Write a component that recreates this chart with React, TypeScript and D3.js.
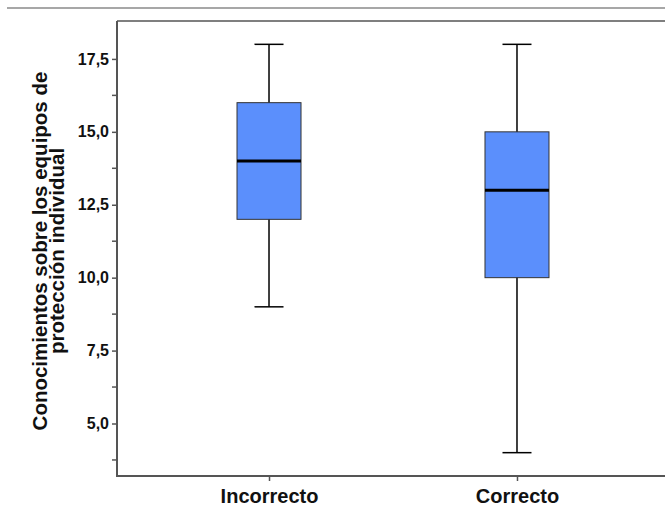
import React, { useEffect, useRef } from "react";
import * as d3 from "d3";

// box plot data
const categories = ["Incorrecto", "Correcto"];
const minValues = [9, 4];
const q1Values = [12, 10];
const medianValues = [14, 13];
const q3Values = [16, 15];
const maxValues = [18, 18];
const yTicks = [5, 7.5, 10, 12.5, 15, 17.5];
const yMinorTicks = [3.75, 6.25, 8.75, 11.25, 13.75, 16.25, 18.75];
const titleLines = ["Conocimientos sobre los equipos de", "protección individual"];

const App = () => {
  const ref = useRef<SVGSVGElement>(null);

  useEffect(() => {
    const width = 665;
    const height = 506;
    const margin = { top: 21, right: -4, bottom: 30, left: 117 };
    const font = "Arial, 'Liberation Sans', sans-serif";

    const svg = d3.select(ref.current);
    svg.selectAll("*").remove();

    const data = categories.map((c, i) => ({
      cat: c,
      min: minValues[i],
      q1: q1Values[i],
      med: medianValues[i],
      q3: q3Values[i],
      max: maxValues[i]
    }));

    const x = d3
      .scalePoint()
      .domain(categories)
      .range([margin.left, width - margin.right])
      .padding(0.613);
    const y = d3
      .scaleLinear()
      .domain([3.2, 18.8])
      .range([height - margin.bottom, margin.top]);

    const boxW = 64;
    const capW = 29;

    // top separator line
    svg
      .append("line")
      .attr("x1", 7)
      .attr("x2", width)
      .attr("y1", 8)
      .attr("y2", 8)
      .attr("stroke", "#8a8a8a")
      .attr("stroke-width", 1.5);

    // plot frame top
    svg
      .append("line")
      .attr("x1", margin.left)
      .attr("x2", width)
      .attr("y1", margin.top)
      .attr("y2", margin.top)
      .attr("stroke", "#555")
      .attr("stroke-width", 1.5);

    // === BOXES ===
    const g = svg.append("g");
    const boxes = g.selectAll("g.box").data(data).join("g").attr("class", "box");

    boxes
      .append("line")
      .attr("x1", d => x(d.cat)!)
      .attr("x2", d => x(d.cat)!)
      .attr("y1", d => y(d.max))
      .attr("y2", d => y(d.min))
      .attr("stroke", "#000")
      .attr("stroke-width", 1.5);

    boxes
      .selectAll("line.cap")
      .data(d => [d.min, d.max].map(v => ({ cat: d.cat, v })))
      .join("line")
      .attr("class", "cap")
      .attr("x1", d => x(d.cat)! - capW / 2)
      .attr("x2", d => x(d.cat)! + capW / 2)
      .attr("y1", d => y(d.v))
      .attr("y2", d => y(d.v))
      .attr("stroke", "#000")
      .attr("stroke-width", 1.5);

    boxes
      .append("rect")
      .attr("x", d => x(d.cat)! - boxW / 2)
      .attr("width", boxW)
      .attr("y", d => y(d.q3))
      .attr("height", d => y(d.q1) - y(d.q3))
      .attr("fill", "#5b8ffc")
      .attr("stroke", "#333")
      .attr("stroke-width", 1);

    boxes
      .append("line")
      .attr("x1", d => x(d.cat)! - boxW / 2)
      .attr("x2", d => x(d.cat)! + boxW / 2)
      .attr("y1", d => y(d.med))
      .attr("y2", d => y(d.med))
      .attr("stroke", "#000")
      .attr("stroke-width", 3);

    // === Y AXIS ===
    svg
      .append("g")
      .attr("transform", `translate(${margin.left},0)`)
      .call(
        d3
          .axisLeft(y)
          .tickValues(yTicks)
          .tickSize(5)
          .tickPadding(3)
          .tickFormat(d => d3.format(".1f")(d as number).replace(".", ","))
      )
      .call(g => g.select(".domain").remove())
      .call(g => g.selectAll("line").attr("stroke", "#555").attr("stroke-width", 1.5))
      .call(g =>
        g
          .selectAll("text")
          .attr("fill", "#111")
          .attr("font-family", font)
          .attr("font-weight", "bold")
          .attr("font-size", 16)
      );

    svg
      .append("g")
      .attr("transform", `translate(${margin.left},0)`)
      .selectAll("line")
      .data(yMinorTicks.filter(v => y(v) > margin.top + 2))
      .join("line")
      .attr("x1", -5)
      .attr("x2", 0)
      .attr("y1", d => y(d))
      .attr("y2", d => y(d))
      .attr("stroke", "#555")
      .attr("stroke-width", 1.5);

    svg
      .append("line")
      .attr("x1", margin.left)
      .attr("x2", margin.left)
      .attr("y1", margin.top)
      .attr("y2", height - margin.bottom)
      .attr("stroke", "#555")
      .attr("stroke-width", 2);

    // === X AXIS ===
    svg
      .append("g")
      .attr("transform", `translate(0,${height - margin.bottom})`)
      .call(d3.axisBottom(x).tickSize(5).tickPadding(8))
      .call(g => g.select(".domain").remove())
      .call(g => g.selectAll("line").attr("stroke", "#555").attr("stroke-width", 1.5))
      .call(g =>
        g
          .selectAll("text")
          .attr("fill", "#111")
          .attr("font-family", font)
          .attr("font-weight", "bold")
          .attr("font-size", 20)
      );

    svg
      .append("line")
      .attr("x1", margin.left - 1)
      .attr("x2", width)
      .attr("y1", height - margin.bottom)
      .attr("y2", height - margin.bottom)
      .attr("stroke", "#555")
      .attr("stroke-width", 2);

    // === Y TITLE ===
    const title = svg
      .append("text")
      .attr("transform", `translate(47,251) rotate(-90)`)
      .attr("text-anchor", "middle")
      .attr("font-family", font)
      .attr("font-weight", "bold")
      .attr("font-size", 20.5)
      .attr("fill", "#111");
    title
      .selectAll("tspan")
      .data(titleLines)
      .join("tspan")
      .attr("x", 0)
      .attr("dy", (_, i) => (i === 0 ? 0 : 17))
      .text(d => d);
  }, []);

  return (
    <svg
      ref={ref}
      width={665}
      height={506}
      style={{ position: "absolute", left: 0, top: 0, background: "#fff" }}
    />
  );
};

export default App;
